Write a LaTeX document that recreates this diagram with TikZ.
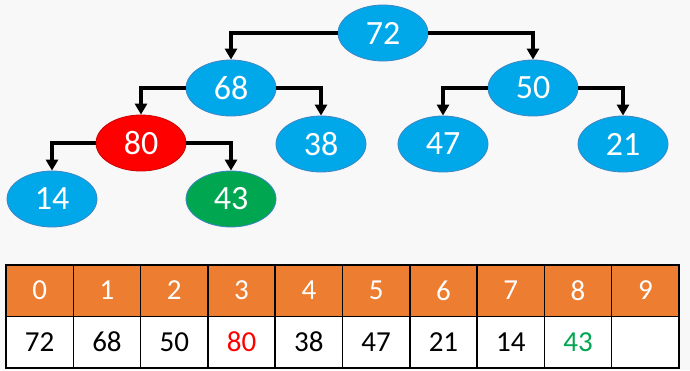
\documentclass[tikz,border=0pt]{standalone}
\usepackage{fontspec}
\setmainfont{Carlito}
\usetikzlibrary{arrows.meta,shapes.geometric}
\definecolor{azul}{HTML}{00A8EA}
\definecolor{bordaazul}{HTML}{3C86C4}
\definecolor{vermelho}{HTML}{FF0000}
\definecolor{verde}{HTML}{00A650}
\definecolor{laranja}{HTML}{ED7D31}
\definecolor{fundo}{HTML}{F8F8F9}
\begin{document}
\begin{tikzpicture}[x=1pt,y=-1pt,
	no/.style={ellipse, draw=bordaazul, line width=0.8pt, fill=azul, text=white,
		minimum width=90pt, minimum height=56pt, inner sep=0pt,
		font=\fontsize{34}{40}\selectfont},
	liga/.style={line width=3.2pt, -{Triangle[length=11pt,width=12pt]}},
	cela/.style={draw, line width=1.5pt, minimum width=67.3pt, minimum height=51.5pt,
		inner sep=0pt, font=\fontsize{29}{34}\selectfont}]

	\fill[fundo] (0,0) rectangle (690,370);

% arvore
	\node[no] (n72) at (383,33) {72};
	\node[no] (n68) at (231,88) {68};
	\node[no] (n50) at (533,88) {50};
	\node[no, fill=vermelho, draw=vermelho!80!black] (n80) at (141,143) {80};
	\node[no] (n38) at (321,144) {38};
	\node[no] (n47) at (443,144) {47};
	\node[no] (n21) at (623,144) {21};
	\node[no] (n14) at (52,199) {14};
	\node[no, fill=verde, draw=bordaazul] (n43) at (231,199) {43};

	\draw[liga] (n72.west) -| (n68.north);
	\draw[liga] (n72.east) -| (n50.north);
	\draw[liga] (n68.west) -| (n80.north);
	\draw[liga] (n68.east) -| (n38.north);
	\draw[liga] (n50.west) -| (n47.north);
	\draw[liga] (n50.east) -| (n21.north);
	\draw[liga] (n80.west) -| (n14.north);
	\draw[liga] (n80.east) -| (n43.north);

% vetor
	\foreach \v/\c [count=\i from=0] in {72/black, 68/black, 50/black, 80/vermelho, 38/black,
			47/black, 21/black, 14/black, 43/verde, /black}
	{
		\node[cela, fill=laranja, text=white] (h\i) at (39.65+67.3*\i,290.5) {\i};
		\node[cela, fill=white, text=\c] (v\i) at (39.65+67.3*\i,342) {\v};
	}
\end{tikzpicture}
\end{document}
